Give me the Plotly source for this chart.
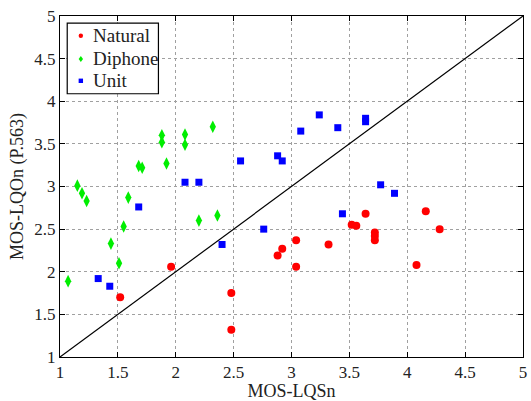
import plotly.graph_objects as go

# MOS-LQSn (subjective) vs MOS-LQOn from P.563 (objective)
natural_x = [1.52, 1.96, 2.48, 2.48, 2.88, 2.92, 3.04, 3.04, 3.32, 3.52, 3.56, 3.64,
             3.72, 3.72, 3.72, 4.08, 4.16, 4.28]
natural_y = [1.70, 2.06, 1.75, 1.32, 2.19, 2.27, 2.37, 2.06, 2.32, 2.55, 2.54, 2.68,
             2.46, 2.42, 2.37, 2.08, 2.71, 2.50]

diphone_x = [1.07, 1.15, 1.19, 1.23, 1.44, 1.51, 1.55, 1.59, 1.68, 1.71, 1.88, 1.88,
             1.92, 2.08, 2.08, 2.20, 2.32, 2.36]
diphone_y = [1.89, 3.01, 2.92, 2.83, 2.33, 2.10, 2.53, 2.87, 3.24, 3.22, 3.60, 3.52,
             3.27, 3.61, 3.49, 2.60, 3.70, 2.66]

unit_x = [1.33, 1.43, 1.68, 2.08, 2.20, 2.40, 2.56, 2.76, 2.88, 2.92, 3.08, 3.24,
          3.40, 3.44, 3.64, 3.64, 3.77, 3.89]
unit_y = [1.92, 1.83, 2.76, 3.05, 3.05, 2.32, 3.30, 2.50, 3.36, 3.30, 3.65, 3.84,
          3.69, 2.68, 3.80, 3.76, 3.02, 2.92]

series_names = ["Natural", "Diphone", "Unit"]
series_colors = ["#ff0000", "#00ee00", "#0000ff"]

diag = [1, 5]
ticks = [1, 1.5, 2, 2.5, 3, 3.5, 4, 4.5, 5]
tick_text = ["1", "1.5", "2", "2.5", "3", "3.5", "4", "4.5", "5"]

FONT = "Liberation Serif"

fig = go.Figure()
fig.add_trace(go.Scatter(x=diag, y=diag, mode="lines", showlegend=False,
                         line=dict(color="black", width=1.2)))
fig.add_trace(go.Scatter(x=natural_x, y=natural_y, mode="markers", name="Natural",
                         showlegend=False,
                         marker=dict(symbol="circle", size=8, color=series_colors[0])))
fig.add_trace(go.Scatter(x=diphone_x, y=diphone_y, mode="markers", name="Diphone",
                         showlegend=False,
                         marker=dict(symbol="diamond-tall", size=9, color=series_colors[1])))
fig.add_trace(go.Scatter(x=unit_x, y=unit_y, mode="markers", name="Unit",
                         showlegend=False,
                         marker=dict(symbol="square", size=7, color=series_colors[2])))

axis_common = dict(
    range=[1, 5], tickvals=ticks, ticktext=tick_text,
    showline=True, linecolor="black", linewidth=1, mirror="ticks",
    ticks="inside", ticklen=5, tickcolor="black",
    showgrid=True, gridcolor="#a0a0a0", gridwidth=1, griddash="dot",
    zeroline=False, tickfont=dict(family=FONT, size=17, color="#222"),
)

# Boxed legend in the upper-left corner (paper coordinates)
shapes = [dict(type="rect", xref="paper", yref="paper",
               x0=0.0156, x1=0.2126, y0=0.772, y1=0.979,
               line=dict(color="black", width=1.2), fillcolor="white", layer="above")]
annotations = []
row_y = [0.942, 0.874, 0.810]
key_x = 0.045
for name, color, ry in zip(series_names, series_colors, row_y):
    if name == "Natural":
        shapes.append(dict(type="circle", xref="paper", yref="paper",
                           xsizemode="pixel", ysizemode="pixel",
                           xanchor=key_x, yanchor=ry, x0=-2.2, x1=2.2, y0=-2.2, y1=2.2,
                           fillcolor=color, line=dict(width=0), layer="above"))
    elif name == "Diphone":
        shapes.append(dict(type="path", xref="paper", yref="paper",
                           xsizemode="pixel", ysizemode="pixel",
                           xanchor=key_x, yanchor=ry,
                           path="M0,-3 L2.2,0 L0,3 L-2.2,0 Z",
                           fillcolor=color, line=dict(width=0), layer="above"))
    else:
        shapes.append(dict(type="rect", xref="paper", yref="paper",
                           xsizemode="pixel", ysizemode="pixel",
                           xanchor=key_x, yanchor=ry, x0=-2.2, x1=2.2, y0=-2.2, y1=2.2,
                           fillcolor=color, line=dict(width=0), layer="above"))
    annotations.append(dict(text=name, xref="paper", yref="paper", x=0.068, y=ry,
                            xanchor="left", yanchor="middle", showarrow=False,
                            font=dict(family=FONT, size=19, color="#222")))

fig.update_layout(
    width=531, height=401,
    margin=dict(l=60, r=4, t=16, b=39),
    paper_bgcolor="white", plot_bgcolor="white",
    font=dict(family=FONT, color="#222"),
    xaxis=dict(**axis_common,
               title=dict(text="MOS-LQSn", font=dict(family=FONT, size=18), standoff=2)),
    yaxis=dict(**axis_common,
               title=dict(text="MOS-LQOn (P.563)", font=dict(family=FONT, size=18), standoff=6)),
    shapes=shapes,
    annotations=annotations,
    showlegend=False,
)

fig.write_html("out.html")
